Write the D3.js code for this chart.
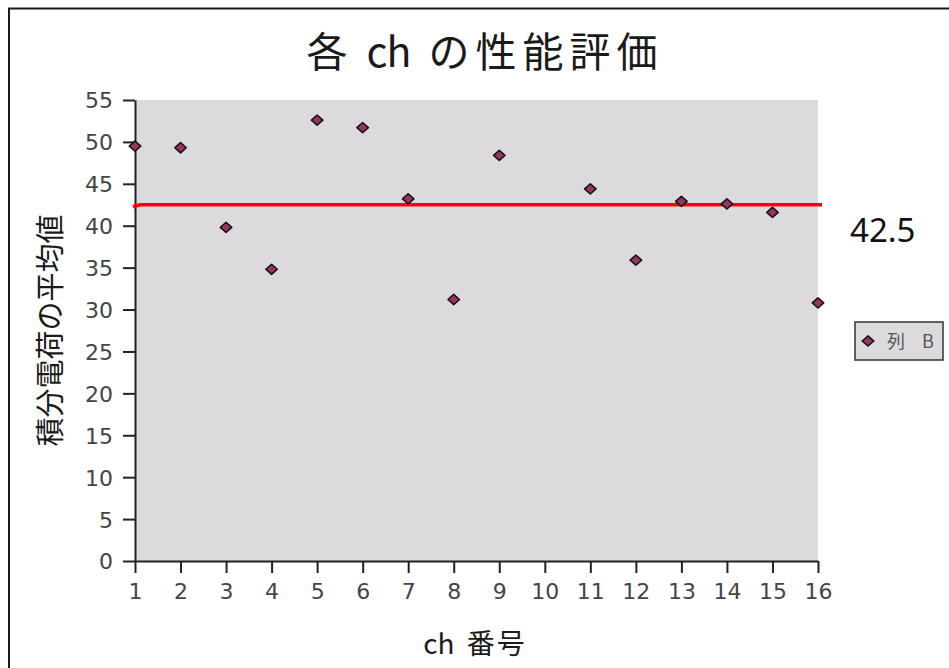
<!DOCTYPE html>
<html>
<head>
<meta charset="utf-8">
<script src="https://cdn.jsdelivr.net/npm/d3@7"></script>
<style>
  html, body { margin: 0; padding: 0; background: #fff; }
  svg { display: block; }
</style>
</head>
<body>
<svg id="chart" width="949" height="668"></svg>
<script>
// Channel numbers and the mean integrated charge measured on each (ch 10 has no reading)
const channels = [1, 2, 3, 4, 5, 6, 7, 8, 9, 11, 12, 13, 14, 15, 16];
const meanCharge = [49.5, 49.3, 39.8, 34.8, 52.6, 51.7, 43.2, 31.2, 48.4, 44.4, 35.9, 42.9, 42.6, 41.6, 30.8];
const xTicks = d3.range(1, 17);
const yTicks = [0, 5, 10, 15, 20, 25, 30, 35, 40, 45, 50, 55];
const averageValue = 42.5;

const titleParts = ["各", "ch", "の性能評価"];
const xLabelParts = ["ch", "番号"];
const yLabelText = "積分電荷の平均値";
const seriesName = ["列", "B"];

const svg = d3.select("#chart");
const jpFont = "'Noto Sans CJK JP', 'Noto Sans', sans-serif";
const numFont = "'DejaVu Sans', sans-serif";

// outer frame
svg.append("rect")
  .attr("x", 9).attr("y", 8.5)
  .attr("width", 960).attr("height", 680)
  .attr("fill", "none").attr("stroke", "#1a1a1a").attr("stroke-width", 2);

const plot = { left: 135, right: 818, top: 100, bottom: 561 };

const x = d3.scaleLinear().domain([1, 16]).range([plot.left, plot.right]);
const y = d3.scaleLinear().domain([0, 55]).range([plot.bottom, plot.top]);

// plot area background
svg.append("rect")
  .attr("x", plot.left).attr("y", plot.top)
  .attr("width", plot.right - plot.left).attr("height", plot.bottom - plot.top)
  .attr("fill", "#dcdadd");

// axes
const yAxis = svg.append("g")
  .attr("transform", `translate(${plot.left},0)`)
  .call(d3.axisLeft(y).tickValues(yTicks).tickSize(12).tickPadding(10).tickSizeOuter(0));
const xAxis = svg.append("g")
  .attr("transform", `translate(0,${plot.bottom})`)
  .call(d3.axisBottom(x).tickValues(xTicks).tickSize(12).tickPadding(10).tickSizeOuter(0));

[yAxis, xAxis].forEach(g => {
  g.select(".domain").attr("stroke", "#222").attr("stroke-width", 2);
  g.selectAll(".tick line").attr("stroke", "#222").attr("stroke-width", 2);
  g.selectAll(".tick text")
    .attr("fill", "#444")
    .style("font-family", numFont)
    .style("font-size", "22px");
});
yAxis.selectAll(".tick text").attr("dy", "0.36em");

// average line
const yAvg = y(averageValue);
svg.append("path")
  .attr("d", `M${x(1) - 2},${yAvg + 2} L${x(1) + 5},${yAvg} L${x(16) + 4},${yAvg}`)
  .attr("fill", "none").attr("stroke", "#ff0000").attr("stroke-width", 3.5);

svg.append("text")
  .attr("x", 850).attr("y", y(averageValue) + 37)
  .attr("fill", "#111")
  .style("font-family", "'Noto Sans', sans-serif")
  .style("font-size", "33px")
  .text(averageValue);

// diamond marker, slightly wider than tall
const diamond = {
  draw(ctx, size) {
    const w = Math.sqrt(size) * 0.72, h = Math.sqrt(size) * 0.64;
    ctx.moveTo(0, -h); ctx.lineTo(w, 0); ctx.lineTo(0, h); ctx.lineTo(-w, 0); ctx.closePath();
  }
};
const symbol = d3.symbol().type(diamond).size(64);

svg.append("g").selectAll("path")
  .data(channels.map((c, i) => ({ c, v: meanCharge[i] })))
  .join("path")
  .attr("transform", d => `translate(${x(d.c)},${y(d.v)})`)
  .attr("d", symbol)
  .attr("fill", "#993366")
  .attr("stroke", "#111")
  .attr("stroke-width", 1.5)
  .attr("stroke-linejoin", "round");

// title: CJK glyphs spread a little, latin kept tight, wide word gaps
const title = svg.append("text")
  .attr("x", 485).attr("y", 67)
  .attr("text-anchor", "middle")
  .attr("fill", "#1a1a1a")
  .style("font-family", jpFont)
  .style("font-size", "41px")
  .style("word-spacing", "10px");
title.append("tspan").style("letter-spacing", "0px").text(titleParts[0] + " ");
title.append("tspan").style("letter-spacing", "-1px").text(titleParts[1] + " ");
title.append("tspan").style("letter-spacing", "6px").text(titleParts[2]);

const xLabel = svg.append("text")
  .attr("x", 475).attr("y", 654)
  .attr("text-anchor", "middle")
  .attr("fill", "#1a1a1a")
  .style("font-family", jpFont)
  .style("font-size", "28px")
  .style("word-spacing", "6px");
xLabel.append("tspan").style("letter-spacing", "0px").text(xLabelParts[0] + " ");
xLabel.append("tspan").style("letter-spacing", "2px").text(xLabelParts[1]);

svg.append("text")
  .attr("transform", `translate(61,${(plot.top + plot.bottom) / 2}) rotate(-90)`)
  .attr("text-anchor", "middle")
  .attr("fill", "#1a1a1a")
  .style("font-family", jpFont)
  .style("font-size", "29px")
  .text(yLabelText);

// legend
const legend = svg.append("g").attr("transform", "translate(855,322)");
legend.append("rect")
  .attr("width", 88).attr("height", 38)
  .attr("fill", "#dcdadd").attr("stroke", "#333").attr("stroke-width", 1.5);
legend.append("path")
  .attr("transform", "translate(13,19)")
  .attr("d", symbol)
  .attr("fill", "#993366").attr("stroke", "#111").attr("stroke-width", 1.5);
const legendText = legend.append("text")
  .attr("y", 26)
  .attr("fill", "#555")
  .style("font-family", jpFont)
  .style("font-size", "18px");
legendText.append("tspan").attr("x", 32).text(seriesName[0]);
legendText.append("tspan").attr("x", 67).text(seriesName[1]);
</script>
</body>
</html>
